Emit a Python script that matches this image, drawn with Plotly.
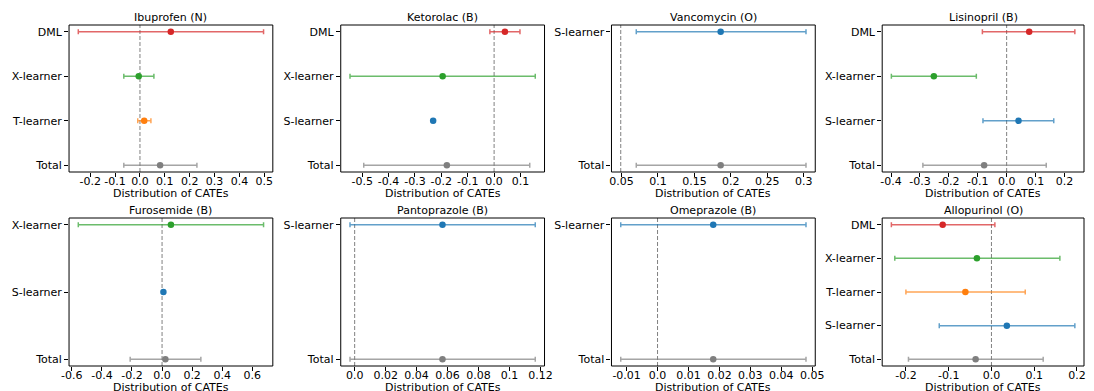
import plotly.graph_objects as go

titles = ["Ibuprofen (N)", "Ketorolac (B)", "Vancomycin (O)", "Lisinopril (B)",
          "Furosemide (B)", "Pantoprazole (B)", "Omeprazole (B)", "Allopurinol (O)"]

learners = [
    ["DML", "X-learner", "T-learner", "Total"],
    ["DML", "X-learner", "S-learner", "Total"],
    ["S-learner", "Total"],
    ["DML", "X-learner", "S-learner", "Total"],
    ["X-learner", "S-learner", "Total"],
    ["S-learner", "Total"],
    ["S-learner", "Total"],
    ["DML", "X-learner", "T-learner", "S-learner", "Total"],
]

estimates = [
    [0.124, -0.005, 0.017, 0.081],
    [0.041, -0.195, -0.231, -0.179],
    [0.186, 0.186],
    [0.078, -0.252, 0.041, -0.078],
    [0.059, 0.009, 0.022],
    [0.0567, 0.0567],
    [0.018, 0.018],
    [-0.114, -0.034, -0.061, 0.036, -0.037],
]

lower = [
    [-0.248, -0.065, -0.009, -0.065],
    [-0.016, -0.546, -0.235, -0.494],
    [0.0703, 0.0703],
    [-0.084, -0.399, -0.082, -0.29],
    [-0.557, 0.005, -0.212],
    [-0.003, -0.003],
    [-0.0119, -0.0119],
    [-0.234, -0.226, -0.2, -0.122, -0.194],
]

upper = [
    [0.497, 0.056, 0.044, 0.229],
    [0.098, 0.156, -0.227, 0.135],
    [0.303, 0.303],
    [0.236, -0.105, 0.163, 0.137],
    [0.675, 0.013, 0.258],
    [0.1166, 0.1166],
    [0.048, 0.048],
    [0.008, 0.16, 0.079, 0.195, 0.121],
]

ref_lines = [0.0, 0.0, 0.049, 0.0, 0.0, 0.0, 0.0, 0.0]

xtick_labels = [
    ["-0.2", "-0.1", "0.0", "0.1", "0.2", "0.3", "0.4", "0.5"],
    ["-0.5", "-0.4", "-0.3", "-0.2", "-0.1", "0.0", "0.1"],
    ["0.05", "0.1", "0.15", "0.2", "0.25", "0.3"],
    ["-0.4", "-0.3", "-0.2", "-0.1", "0.0", "0.1", "0.2"],
    ["-0.6", "-0.4", "-0.2", "0.0", "0.2", "0.4", "0.6"],
    ["0.0", "0.02", "0.04", "0.06", "0.08", "0.1", "0.12"],
    ["-0.01", "0.0", "0.01", "0.02", "0.03", "0.04", "0.05"],
    ["-0.2", "-0.1", "0.0", "0.1", "0.2"],
]

x_label = "Distribution of CATEs"

colors = {
    "DML": (214, 39, 40),
    "X-learner": (44, 160, 44),
    "T-learner": (255, 127, 14),
    "S-learner": (31, 119, 180),
    "Total": (127, 127, 127),
}

W, H = 1094, 391
col_left = [62, 338, 613, 888]
col_right = [269, 545, 820, 1093]
row_top = [25, 218]
row_bottom = [172, 366]

FONT = "DejaVu Sans"
FS = 11

fig = go.Figure()
annotations = []
shapes = []

for k in range(8):
    r, c = divmod(k, 4)
    ax = "" if k == 0 else str(k + 1)
    xa, ya = "x" + ax, "y" + ax
    n = len(learners[k])
    ypos = [n - 1 - i for i in range(n)]
    for i, name in enumerate(learners[k]):
        rgb = colors[name]
        est = estimates[k][i]
        fig.add_trace(go.Scatter(
            x=[est], y=[ypos[i]], mode="markers",
            marker=dict(size=6.5, color="rgb(%d,%d,%d)" % rgb),
            error_x=dict(type="data", symmetric=False,
                         array=[upper[k][i] - est], arrayminus=[est - lower[k][i]],
                         color="rgba(%d,%d,%d,0.7)" % rgb, thickness=1.5, width=2.5),
            xaxis=xa, yaxis=ya, showlegend=False, hoverinfo="skip",
        ))
    allx = lower[k] + upper[k] + [ref_lines[k]]
    lo, hi = min(allx), max(allx)
    pad = 0.05 * (hi - lo)
    xdom = [col_left[c] / W, col_right[c] / W]
    ydom = [1 - row_bottom[r] / H, 1 - row_top[r] / H]
    axis_common = dict(showline=False, ticks="outside", ticklen=4, tickcolor="black", tickwidth=1,
                       showgrid=False, zeroline=False,
                       tickfont=dict(family=FONT, size=FS, color="black"))
    fig.update_layout(**{
        ("xaxis" + ax): dict(domain=xdom, range=[lo - pad, hi + pad], anchor=ya,
                             tickvals=[float(t) for t in xtick_labels[k]],
                             ticktext=xtick_labels[k], ticklabelstandoff=-5, **axis_common),
        ("yaxis" + ax): dict(domain=ydom, range=[-0.05 * (n - 1), 1.05 * (n - 1)], anchor=xa,
                             tickvals=ypos, ticktext=learners[k], **axis_common),
    })
    shapes.append(dict(type="line", xref=xa, yref=ya + " domain", x0=ref_lines[k], x1=ref_lines[k],
                       y0=0, y1=1, line=dict(color="#808080", width=1, dash="4px,2px"), layer="below"))
    shapes.append(dict(type="rect", xref=xa + " domain", yref=ya + " domain", x0=0, x1=1, y0=0, y1=1,
                       line=dict(color="black", width=1), fillcolor="rgba(0,0,0,0)", layer="above"))
    cx = (col_left[c] + col_right[c]) / 2 / W
    annotations.append(dict(text=titles[k], x=cx, y=1 - (row_top[r] - 7.5) / H, xref="paper", yref="paper",
                            xanchor="center", yanchor="middle", showarrow=False,
                            font=dict(family=FONT, size=FS, color="black")))
    annotations.append(dict(text=x_label, x=cx, y=1 - (row_bottom[r] + 21.5) / H, xref="paper", yref="paper",
                            xanchor="center", yanchor="middle", showarrow=False,
                            font=dict(family=FONT, size=FS, color="black")))

fig.update_layout(width=W, height=H, margin=dict(l=0, r=0, t=0, b=0),
                  paper_bgcolor="white", plot_bgcolor="white",
                  annotations=annotations, shapes=shapes,
                  font=dict(family=FONT, size=FS, color="black"))

fig.write_html("out.html")
